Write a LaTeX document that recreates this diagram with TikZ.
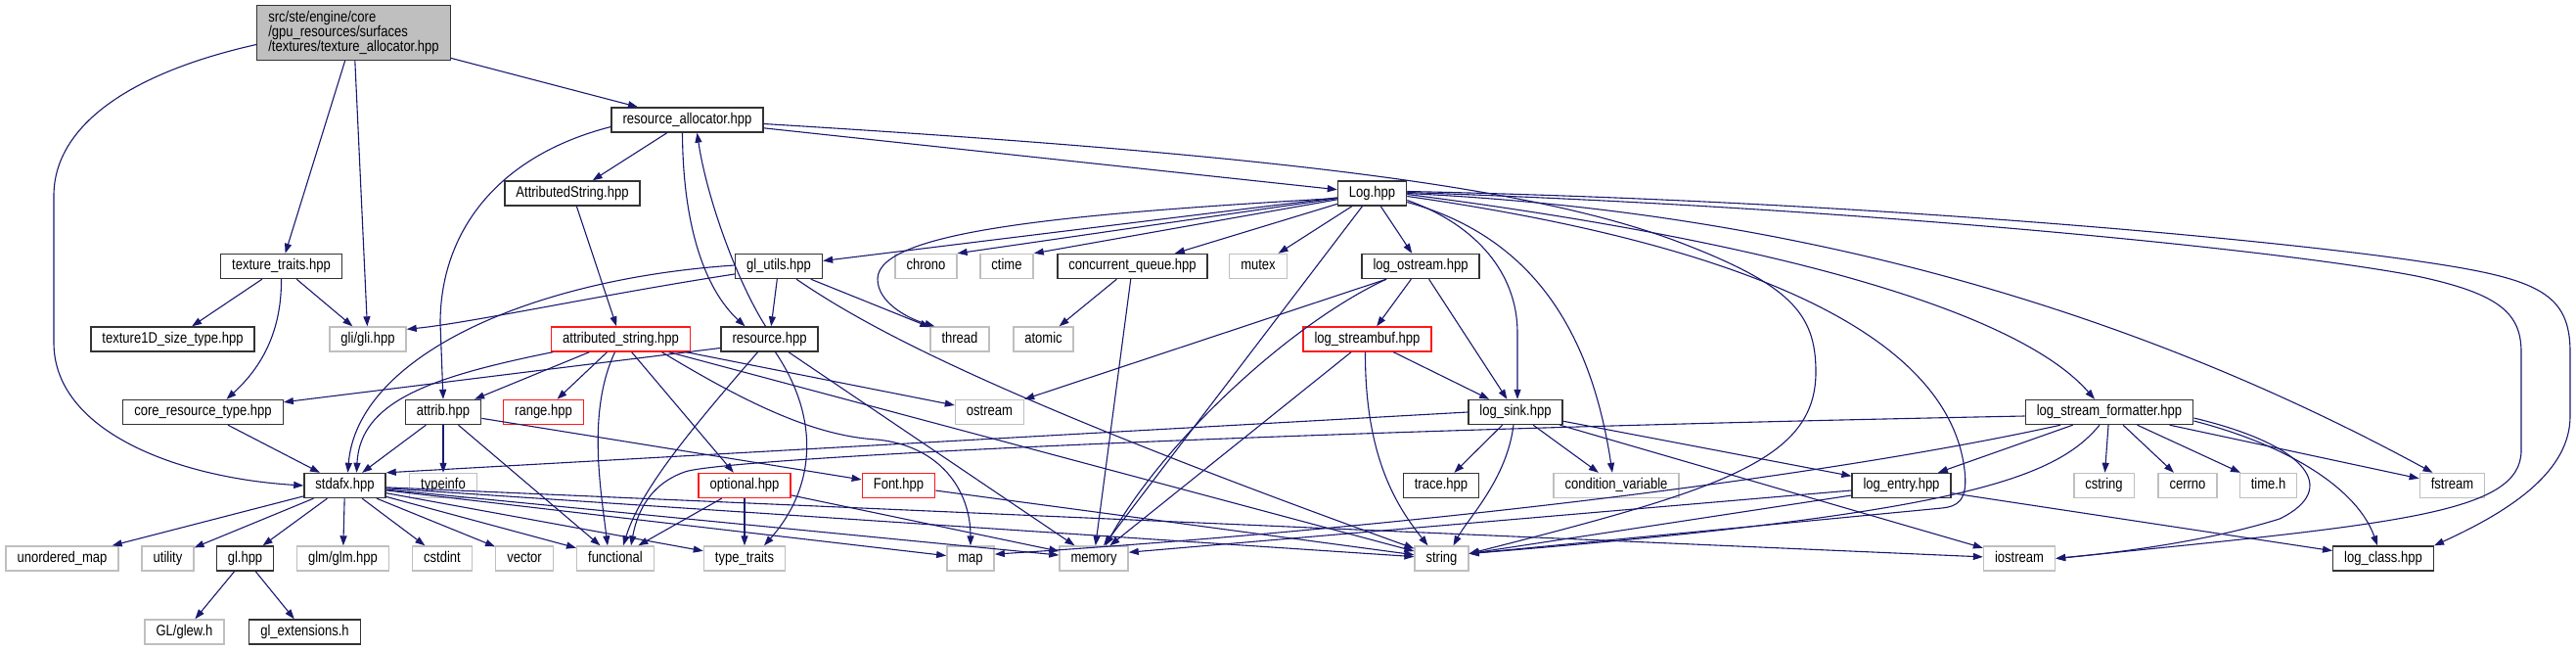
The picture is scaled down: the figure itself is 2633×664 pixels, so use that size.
\documentclass[tikz,border=0pt]{standalone}
\usepackage{fontspec}
\setmainfont{Liberation Sans}[FakeStretch=0.84]
\usepackage{xcolor}
\usepackage{tikz}
\usetikzlibrary{arrows.meta}
\definecolor{edgeblue}{HTML}{191970}
\definecolor{sysgray}{HTML}{BFBFBF}

\begin{document}
\begin{tikzpicture}[x=1pt, y=-1pt,
		font=\fontsize{15.5}{15}\selectfont,
		box/.style={draw=black!80, line width=1.4pt, fill=white, inner xsep=11.5pt, inner ysep=0pt, minimum height=25pt, text height=11pt, text depth=3.2pt},
		sysbox/.style={box, draw=sysgray},
		redbox/.style={box, draw=red!90!white},
		rootbox/.style={draw=black!80, line width=1.4pt, fill=sysgray, inner xsep=11.5pt, inner ysep=5.5pt, align=left},
		dep/.style={draw=edgeblue, line width=1.1pt, -{Triangle[length=10pt, width=7pt]}}]
		\useasboundingbox (0,0) rectangle (2633,664);

		% 根文件
		\node[rootbox] (root) at (361.5,33.5) {src/ste/engine/core\\/gpu\_resources/surfaces\\/textures/texture\_allocator.hpp};

		% 第一、二层
		\node[box] (resalloc) at (702.5,122.5) {resource\_allocator.hpp};
		\node[box] (attrstr) at (585,197.5) {AttributedString.hpp};
		\node[box] (log) at (1402.5,197.5) {Log.hpp};

		% 第三层
		\node[box] (textraits) at (287.5,272) {texture\_traits.hpp};
		\node[box] (glutils) at (796,272) {gl\_utils.hpp};
		\node[sysbox] (chrono) at (946.5,272) {chrono};
		\node[sysbox] (ctime) at (1029,272) {ctime};
		\node[box] (cqueue) at (1157.5,272) {concurrent\_queue.hpp};
		\node[sysbox] (mutex) at (1286,272) {mutex};
		\node[box] (logostream) at (1452,272) {log\_ostream.hpp};

		% 第四层
		\node[box] (tex1d) at (176.5,346.5) {texture1D\_size\_type.hpp};
		\node[sysbox] (gli) at (376,346.5) {gli/gli.hpp};
		\node[redbox] (attrstring) at (634.5,346.5) {attributed\_string.hpp};
		\node[box] (resource) at (786.5,346.5) {resource.hpp};
		\node[sysbox] (thread) at (981,346.5) {thread};
		\node[sysbox] (atomic) at (1066.5,346.5) {atomic};
		\node[redbox] (logstreambuf) at (1397.5,346.5) {log\_streambuf.hpp};

		% 第五层
		\node[box] (coretype) at (207.5,421) {core\_resource\_type.hpp};
		\node[box] (attrib) at (453,421) {attrib.hpp};
		\node[redbox] (range) at (555.5,421) {range.hpp};
		\node[sysbox] (ostream) at (1011.5,421) {ostream};
		\node[box] (logsink) at (1549,421) {log\_sink.hpp};
		\node[box] (logfmt) at (2156,421) {log\_stream\_formatter.hpp};

		% 第六层
		\node[box] (stdafx) at (352.5,496) {stdafx.hpp};
		\node[sysbox] (typeinfo) at (453,496) {typeinfo};
		\node[redbox] (optional) at (761,496) {optional.hpp};
		\node[redbox] (font) at (918.5,496) {Font.hpp};
		\node[box] (trace) at (1473,496) {trace.hpp};
		\node[sysbox] (condvar) at (1652,496) {condition\_variable};
		\node[box] (logentry) at (1943.5,496) {log\_entry.hpp};
		\node[sysbox] (cstring) at (2150.5,496) {cstring};
		\node[sysbox] (cerrno) at (2236,496) {cerrno};
		\node[sysbox] (timeh) at (2318.5,496) {time.h};
		\node[sysbox] (fstream) at (2506.5,496) {fstream};

		% 第七、八层
		\node[sysbox] (umap) at (63.5,570.5) {unordered\_map};
		\node[sysbox] (utility) at (171.5,570.5) {utility};
		\node[box] (glhpp) at (250.5,570.5) {gl.hpp};
		\node[sysbox] (glm) at (350.5,570.5) {glm/glm.hpp};
		\node[sysbox] (cstdint) at (452,570.5) {cstdint};
		\node[sysbox] (vector) at (536,570.5) {vector};
		\node[sysbox] (functional) at (629,570.5) {functional};
		\node[sysbox] (typetraits) at (761,570.5) {type\_traits};
		\node[sysbox] (map) at (992,570.5) {map};
		\node[sysbox] (memory) at (1118,570.5) {memory};
		\node[sysbox] (string) at (1473.5,570.5) {string};
		\node[sysbox] (iostream) at (2064,570.5) {iostream};
		\node[box] (logclass) at (2436,570.5) {log\_class.hpp};
		\node[sysbox] (glew) at (188.5,645.5) {GL/glew.h};
		\node[box] (glext) at (311.5,645.5) {gl\_extensions.h};

		% texture_allocator.hpp
		\draw[dep] (root) -- (resalloc);
		\draw[dep] (root) -- (textraits);
		\draw[dep] (root) -- (gli);
		\draw[dep] ([yshift=-12pt]root.west) .. controls (130,75) and (55,130) .. (55,200) -- (55,350) .. controls (55,440) and (180,488) .. (stdafx.west);

		% resource_allocator.hpp
		\draw[dep] (resalloc) -- (attrstr);
		\draw[dep] (resalloc) -- (log);
		\draw[dep] ([xshift=-5pt]resalloc.south) .. controls (698,230) and (720,295) .. ([xshift=-25pt]resource.north);
		\draw[dep] ([yshift=-7pt]resalloc.west) .. controls (505,160) and (450,240) .. (450,330) -- (attrib.north);
		\draw[dep] ([yshift=-4pt]resalloc.east) .. controls (1300,158) and (1560,190) .. (1710,245) .. controls (1830,290) and (1856,320) .. (1856,380) .. controls (1856,470) and (1760,500) .. (string.10);
		\draw[dep] ([xshift=-4pt]resource.north) .. controls (752,285) and (722,200) .. ([xshift=10pt]resalloc.south);

		% AttributedString.hpp, texture_traits.hpp
		\draw[dep] (attrstr) -- (attrstring);
		\draw[dep] (textraits) -- (tex1d);
		\draw[dep] (textraits) -- (gli);
		\draw[dep] (textraits.south) .. controls (288,345) and (262,380) .. ([xshift=24pt]coretype.north);

		% gl_utils.hpp
		\draw[dep] ([yshift=-8pt]glutils.west) .. controls (620,300) and (480,330) .. ([yshift=-3pt]gli.north east);
		\draw[dep] ([yshift=1pt]glutils.west) .. controls (540,285) and (365,365) .. ([xshift=3pt]stdafx.north);
		\draw[dep] (glutils) -- (resource);
		\draw[dep] (glutils) -- (thread);
		\draw[dep] ([xshift=18pt]glutils.south) .. controls (880,330) and (1000,400) .. (string.160);

		% attributed_string.hpp
		\draw[dep] ([xshift=2pt]attrstring.south west) .. controls (440,385) and (368,410) .. ([xshift=12pt]stdafx.north);
		\draw[dep] (attrstring) -- (attrib);
		\draw[dep] (attrstring) -- (range);
		\draw[dep] ([xshift=-6pt]attrstring.south) .. controls (600,420) and (614,500) .. ([xshift=-8pt]functional.north);
		\draw[dep] (attrstring) -- (optional);
		\draw[dep] (attrstring) -- (ostream);
		\draw[dep] ([xshift=42pt]attrstring.south) .. controls (760,410) and (830,445) .. (896,449) .. controls (960,455) and (992,500) .. (map.north);
		\draw[dep] (attrstring) -- (string);

		% resource.hpp
		\draw[dep] ([yshift=-9pt]resource.west) -- ([yshift=-3pt]coretype.north east);
		\draw[dep] ([xshift=-12pt]resource.south) .. controls (705,440) and (655,500) .. ([xshift=8pt]functional.north);
		\draw[dep] ([xshift=6pt]resource.south) .. controls (840,430) and (832,500) .. ([xshift=20pt]typetraits.north);
		\draw[dep] (resource) -- (memory);

		% attrib.hpp, optional.hpp, Font.hpp
		\draw[dep] (attrib) -- (stdafx);
		\draw[dep] (attrib) -- (typeinfo);
		\draw[dep] (attrib) -- (functional);
		\draw[dep] (attrib) -- (font);
		\draw[dep] (optional) -- (functional);
		\draw[dep] (optional) -- (typetraits);
		\draw[dep] (optional) -- (memory);
		\draw[dep] (font) -- (string);

		% stdafx.hpp
		\draw[dep] (coretype) -- (stdafx);
		\draw[dep] (stdafx) -- (umap);
		\draw[dep] (stdafx) -- (utility);
		\draw[dep] (stdafx) -- (glhpp);
		\draw[dep] (stdafx) -- (glm);
		\draw[dep] (stdafx) -- (cstdint);
		\draw[dep] (stdafx) -- (vector);
		\draw[dep] (stdafx) -- (functional);
		\draw[dep] (stdafx) -- (typetraits);
		\draw[dep] (stdafx) -- (map);
		\draw[dep] (stdafx) -- (memory);
		\draw[dep] (stdafx) -- (string);
		\draw[dep] (stdafx) -- (iostream);
		\draw[dep] (glhpp) -- (glew);
		\draw[dep] (glhpp) -- (glext);

		% Log.hpp
		\draw[dep] (log) -- (glutils);
		\draw[dep] ([yshift=-5pt]log.west) .. controls (1100,218) and (897,235) .. (897,285) .. controls (897,310) and (930,326) .. ([xshift=5pt]thread.north west);
		\draw[dep] (log) -- (chrono.north east);
		\draw[dep] (log) -- (ctime.north east);
		\draw[dep] (log) -- (cqueue);
		\draw[dep] (log) -- (mutex);
		\draw[dep] (log) -- (logostream);
		\draw[dep] (log) -- (memory);
		\draw[dep] ([yshift=-7pt]log.east) .. controls (1510,230) and (1551,280) .. (1551,340) -- ([xshift=2pt]logsink.north);
		\draw[dep] ([yshift=-9pt]log.east) .. controls (1560,240) and (1625,330) .. ([xshift=-4pt]condvar.north);
		\draw[dep] ([yshift=-3pt]log.east) .. controls (1750,245) and (1990,330) .. (2008,480) .. controls (2012,512) and (2000,517.5) .. (1985,519) -- (string.10);
		\draw[dep] ([yshift=-1pt]log.east) .. controls (1800,245) and (2060,315) .. ([xshift=-15pt]logfmt.north);
		\draw[dep] (log.east) .. controls (1800,215) and (2150,300) .. ([xshift=-20pt]fstream.north);
		\draw[dep] ([yshift=2pt]log.east) .. controls (1900,205) and (2330,245) .. (2480,268) .. controls (2595,285) and (2627,300) .. (2627,360) -- (2627,425) .. controls (2627,480) and (2570,520) .. (logclass.north east);
		\draw[dep] ([yshift=1pt]log.east) .. controls (1900,212) and (2330,255) .. (2470,282) .. controls (2555,300) and (2577,320) .. (2577,360) -- (2577,460) .. controls (2577,525) and (2450,535) .. (iostream.east);

		% concurrent_queue.hpp, log_ostream.hpp, log_streambuf.hpp
		\draw[dep] (cqueue) -- (atomic);
		\draw[dep] (cqueue) -- (memory);
		\draw[dep] ([xshift=-35pt]logostream.south) .. controls (1320,330) and (1190,450) .. ([xshift=12pt]memory.north);
		\draw[dep] ([xshift=-35pt]logostream.south) -- (ostream.north east);
		\draw[dep] (logostream) -- (logstreambuf);
		\draw[dep] (logostream) -- (logsink);
		\draw[dep] (logstreambuf) -- (memory);
		\draw[dep] ([xshift=-2pt]logstreambuf.south) .. controls (1395,470) and (1430,520) .. ([xshift=-14pt]string.north);
		\draw[dep] (logstreambuf) -- (logsink);

		% log_sink.hpp
		\draw[dep] (logsink.west) -- (stdafx.north east);
		\draw[dep] (logsink) -- (trace);
		\draw[dep] ([xshift=-2pt]logsink.south) .. controls (1540,490) and (1500,530) .. ([xshift=12pt]string.north);
		\draw[dep] (logsink) -- (condvar);
		\draw[dep] (logsink) -- (logentry);
		\draw[dep] (logsink) -- (iostream);

		% log_stream_formatter.hpp
		\draw[dep] ([yshift=-4pt]logfmt.west) .. controls (1300,440) and (740,468) .. (700,482) .. controls (660,496) and (650,530) .. ([xshift=16pt]functional.north);
		\draw[dep] (logfmt) -- (logentry);
		\draw[dep] (logfmt) -- (cstring);
		\draw[dep] (logfmt) -- (cerrno);
		\draw[dep] (logfmt) -- (timeh);
		\draw[dep] (logfmt) -- (fstream);
		\draw[dep] ([yshift=-9pt]logfmt.east) .. controls (2340,455) and (2410,500) .. ([xshift=-6pt]logclass.north);
		\draw[dep] ([yshift=-6pt]logfmt.east) .. controls (2360,455) and (2392,500) .. (2330,530) .. controls (2250,555) and (2150,566) .. (iostream.east);
		\draw[dep] ([xshift=-10pt]logfmt.south) .. controls (2100,490) and (2000,525) .. (string.10);
		\draw[dep] ([xshift=-50pt]logfmt.south) .. controls (1900,480) and (1500,535) .. (map.10);

		% log_entry.hpp
		\draw[dep] ([yshift=-5pt]logentry.west) -- (memory.10);
		\draw[dep] ([yshift=-10pt]logentry.west) -- (string.10);
		\draw[dep] (logentry) -- (logclass);
	\end{tikzpicture}
\end{document}
